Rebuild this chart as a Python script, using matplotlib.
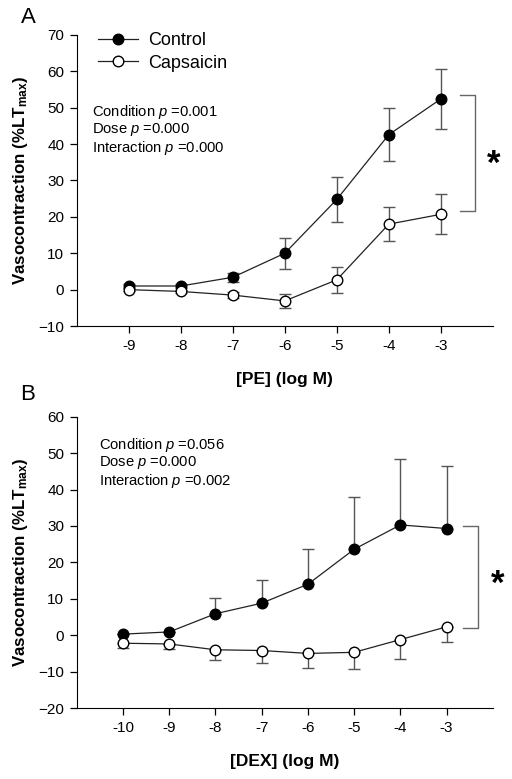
import matplotlib
matplotlib.use("Agg")
import matplotlib.pyplot as plt
import numpy as np

plt.rcParams['font.family'] = ['Liberation Sans', 'DejaVu Sans']
plt.rcParams['mathtext.fontset'] = 'custom'
plt.rcParams['mathtext.rm'] = 'Liberation Sans'
plt.rcParams['mathtext.it'] = 'Liberation Sans:italic'
plt.rcParams['mathtext.bf'] = 'Liberation Sans:bold'

# Panel A data (PE)
dose_a = [-9, -8, -7, -6, -5, -4, -3]
ctrl_a = [1.0, 1.0, 3.4, 10.0, 24.8, 42.6, 52.4]
ctrl_a_err = [0.5, 0.5, 1.3, 4.2, 6.2, 7.3, 8.2]
caps_a = [0.0, -0.5, -1.5, -3.1, 2.7, 18.0, 20.7]
caps_a_err = [0.4, 0.5, 0.8, 2.0, 3.5, 4.6, 5.5]
stats_a = ["Condition $p$ =0.001", "Dose $p$ =0.000", "Interaction $p$ =0.000"]

# Panel B data (DEX)
dose_b = [-10, -9, -8, -7, -6, -5, -4, -3]
ctrl_b = [0.3, 0.9, 5.9, 8.8, 14.0, 23.6, 30.3, 29.3]
ctrl_b_err = [0.0, 0.0, 4.2, 6.3, 9.6, 14.4, 18.0, 17.2]
caps_b = [-2.2, -2.4, -4.0, -4.2, -5.0, -4.7, -1.2, 2.3]
caps_b_err = [1.2, 1.3, 2.9, 3.5, 4.0, 4.6, 5.2, 4.3]
stats_b = ["Condition $p$ =0.056", "Dose $p$ =0.000", "Interaction $p$ =0.002"]

fig = plt.figure(figsize=(5.12, 7.79), dpi=100)
axA = fig.add_axes([0.150, 0.5815, 0.8125, 0.3736])
axB = fig.add_axes([0.150, 0.0911, 0.8125, 0.3739])

ecol = '#555555'
ms = 7.6

def style(ax, xlim, ylim, yticks, xticks, xlabel):
    ax.set_xlim(*xlim)
    ax.set_ylim(*ylim)
    ax.set_yticks(yticks)
    ax.set_xticks(xticks)
    ax.set_xticklabels([str(t) for t in xticks])
    ax.spines['top'].set_visible(False)
    ax.spines['right'].set_visible(False)
    ax.tick_params(direction='out', length=5, width=0.9, labelsize=11, pad=4)
    ax.set_xlabel(xlabel, fontsize=12.5, fontweight='bold', labelpad=14)
    ax.set_ylabel(r'Vasocontraction (%LT$_{\mathbf{max}}$)', fontsize=12.2,
                  fontweight='bold', labelpad=6)

# Panel A
axA.errorbar(dose_a, ctrl_a, yerr=ctrl_a_err, fmt='none', ecolor=ecol,
             elinewidth=1, capsize=4, capthick=1, zorder=2)
axA.errorbar(dose_a, caps_a, yerr=caps_a_err, fmt='none', ecolor=ecol,
             elinewidth=1, capsize=4, capthick=1, zorder=2)
axA.plot(dose_a, ctrl_a, '-o', color='#222222', lw=0.9, mfc='black', mec='black',
         ms=ms, label='Control', zorder=3)
axA.plot(dose_a, caps_a, '-o', color='#222222', lw=0.9, mfc='white', mec='black',
         ms=ms, label='Capsaicin', zorder=4)
style(axA, (-10, -2), (-10, 70), np.arange(-10, 71, 10), dose_a, '[PE] (log M)')
leg = axA.legend(loc='upper left', bbox_to_anchor=(0.012, 1.065), frameon=False,
                 fontsize=13, handlelength=2.2, handletextpad=0.6, labelspacing=0.3)
axA.text(0.036, 0.766, "\n".join(stats_a), transform=axA.transAxes, fontsize=10.6,
         va='top', ha='left', linespacing=1.03)
axA.plot([-2.64, -2.34, -2.34, -2.64], [53.5, 53.5, 21.7, 21.7], color='#666666',
         lw=1, clip_on=False)
axA.text(-1.98, 34.5, '*', fontsize=25, fontweight='bold', ha='center', va='center',
         clip_on=False)

# Panel B
axB.errorbar(dose_b, ctrl_b, yerr=[np.zeros(len(ctrl_b_err)), ctrl_b_err], fmt='none',
             ecolor=ecol, elinewidth=1, capsize=4, capthick=1, zorder=2)
axB.errorbar(dose_b, caps_b, yerr=[caps_b_err, np.zeros(len(caps_b_err))], fmt='none',
             ecolor=ecol, elinewidth=1, capsize=4, capthick=1, zorder=2)
axB.plot(dose_b, ctrl_b, '-o', color='#222222', lw=0.9, mfc='black', mec='black',
         ms=ms, zorder=3)
axB.plot(dose_b, caps_b, '-o', color='#222222', lw=0.9, mfc='white', mec='black',
         ms=ms, zorder=4)
style(axB, (-11, -2), (-20, 60), np.arange(-20, 61, 10), dose_b, '[DEX] (log M)')
axB.text(0.053, 0.934, "\n".join(stats_b), transform=axB.transAxes, fontsize=10.6,
         va='top', ha='left', linespacing=1.03)
axB.plot([-2.64, -2.32, -2.32, -2.64], [29.9, 29.9, 2.0, 2.0], color='#666666',
         lw=1, clip_on=False)
axB.text(-1.9, 14.0, '*', fontsize=25, fontweight='bold', ha='center', va='center',
         clip_on=False)

fig.text(0.04, 0.977, 'A', fontsize=16, ha='left', va='center')
fig.text(0.04, 0.494, 'B', fontsize=16, ha='left', va='center')

fig.savefig('out.png', dpi=100)
